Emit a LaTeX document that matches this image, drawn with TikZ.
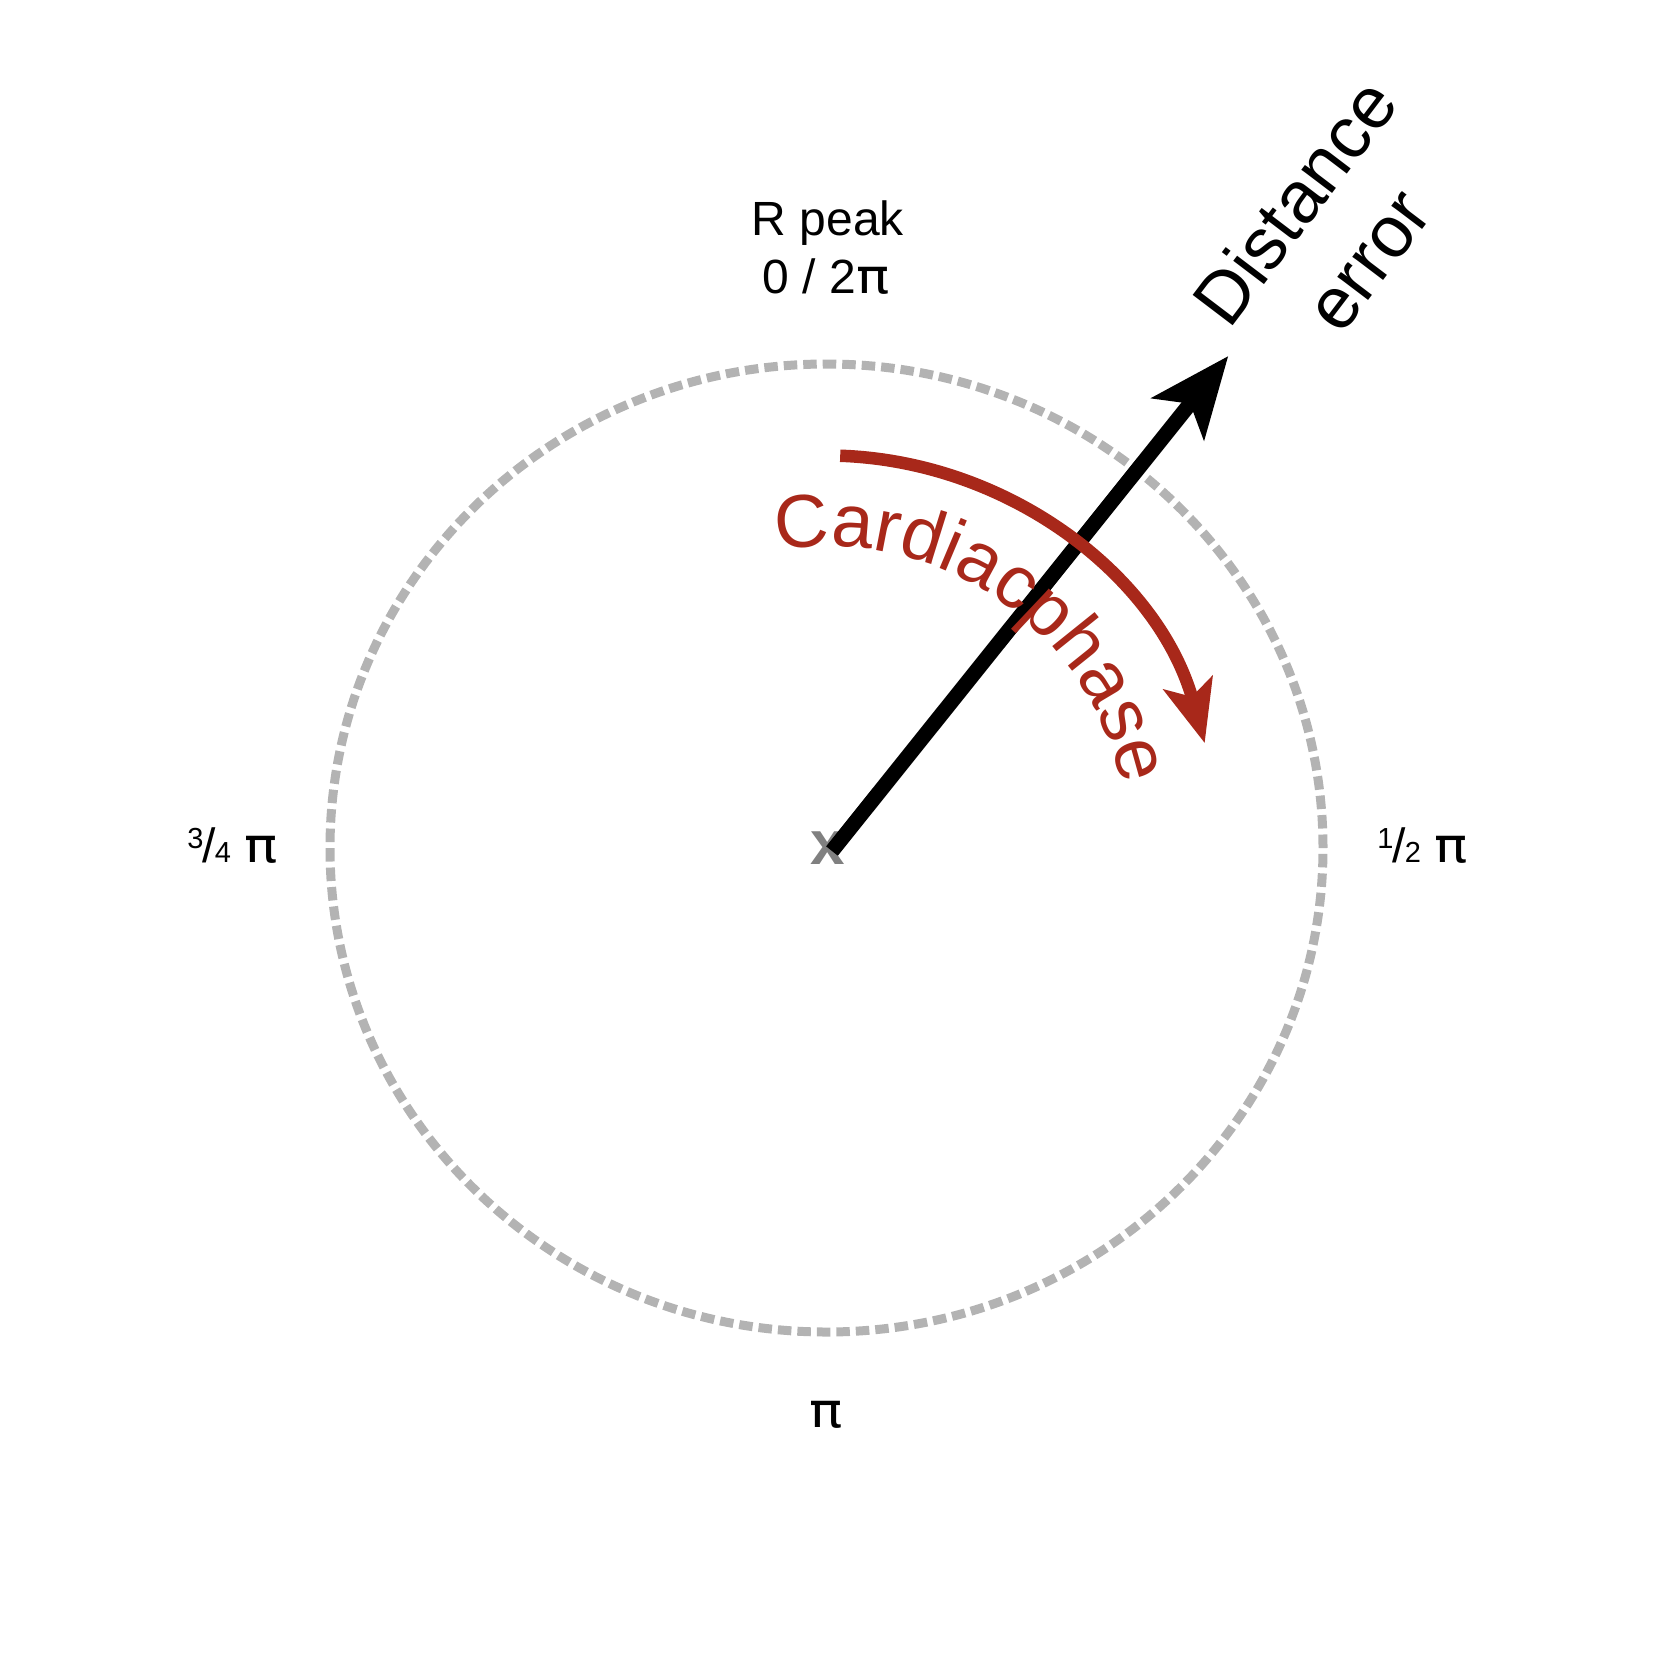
\documentclass[tikz,border=0pt]{standalone}
\usepackage{fontspec}
\setmainfont{Liberation Sans}
\newfontfamily\pifont{DejaVu Sans}
\newcommand\mypi{\scalebox{1.15}[1]{\pifont π}}
\newcommand\myfrac[2]{\raisebox{14pt}{\fontsize{29}{29}\selectfont #1}\kern-1pt/\kern-1pt{\fontsize{29}{29}\selectfont #2}}
\usetikzlibrary{arrows.meta,decorations.text}
\definecolor{ringgray}{RGB}{179,179,179}
\definecolor{phasered}{RGB}{168,40,26}
\definecolor{markgray}{RGB}{128,128,128}
\begin{document}
\begin{tikzpicture}[x=1pt,y=1pt,
  ring/.style={draw=ringgray, line width=9pt, dash pattern=on 13.5pt off 6pt},
  lbl/.style={font=\fontsize{48}{56}\selectfont, text=black, inner sep=0pt, anchor=base},
  bigtxt/.style={font=\fontsize{73}{84}\selectfont, text=black, inner sep=0pt, anchor=base},
  errarrow/.style={draw=black, line width=15pt, -{Stealth[length=80pt,width=66pt,inset=19pt]}},
  phasearrow/.style={draw=phasered, line width=12.5pt, -{Stealth[length=62pt,width=50pt,inset=14pt]}}
]
\useasboundingbox (0,0) rectangle (1655,-1655);
\coordinate (c) at (826.5,-848);
\draw[ring] (c) ellipse [x radius=496.5, y radius=484];
\node[font=\bfseries\fontsize{62}{62}\selectfont, text=markgray, inner sep=0pt] (mark) at (827.5,-848.3) {x};
\coordinate (s) at (832,-851);
\coordinate (tip) at (1228.3,-356);
\draw[errarrow] (s) -- (tip);
\draw[phasearrow] ([shift={(88:392.5)}]c) arc[start angle=88, end angle=15.5, radius=392.5];
\path[decorate, decoration={text along path, text color=phasered, text align=left,
  text={|\fontsize{75}{86}\selectfont|Cardiacphase}}]
  ([shift={(99.6:302)}]c) arc[start angle=99.6, end angle=-20, radius=302];
\node[bigtxt, rotate=52.8] (dist) at (1315,-217) {Distance};
\node[bigtxt, rotate=52.8] (err) at (1388,-275) {error};
\node[lbl] (rpeak) at (828,-235) {R peak};
\node[lbl] (zero) at (826,-293) {0 / 2\mypi};
\node[lbl] (threeq) at (232.5,-862) {\myfrac{3}{4} \mypi};
\node[lbl] (half) at (1422.5,-862) {\myfrac{1}{2} \mypi};
\node[lbl] (pi) at (826,-1427) {\mypi};
\end{tikzpicture}
\end{document}
